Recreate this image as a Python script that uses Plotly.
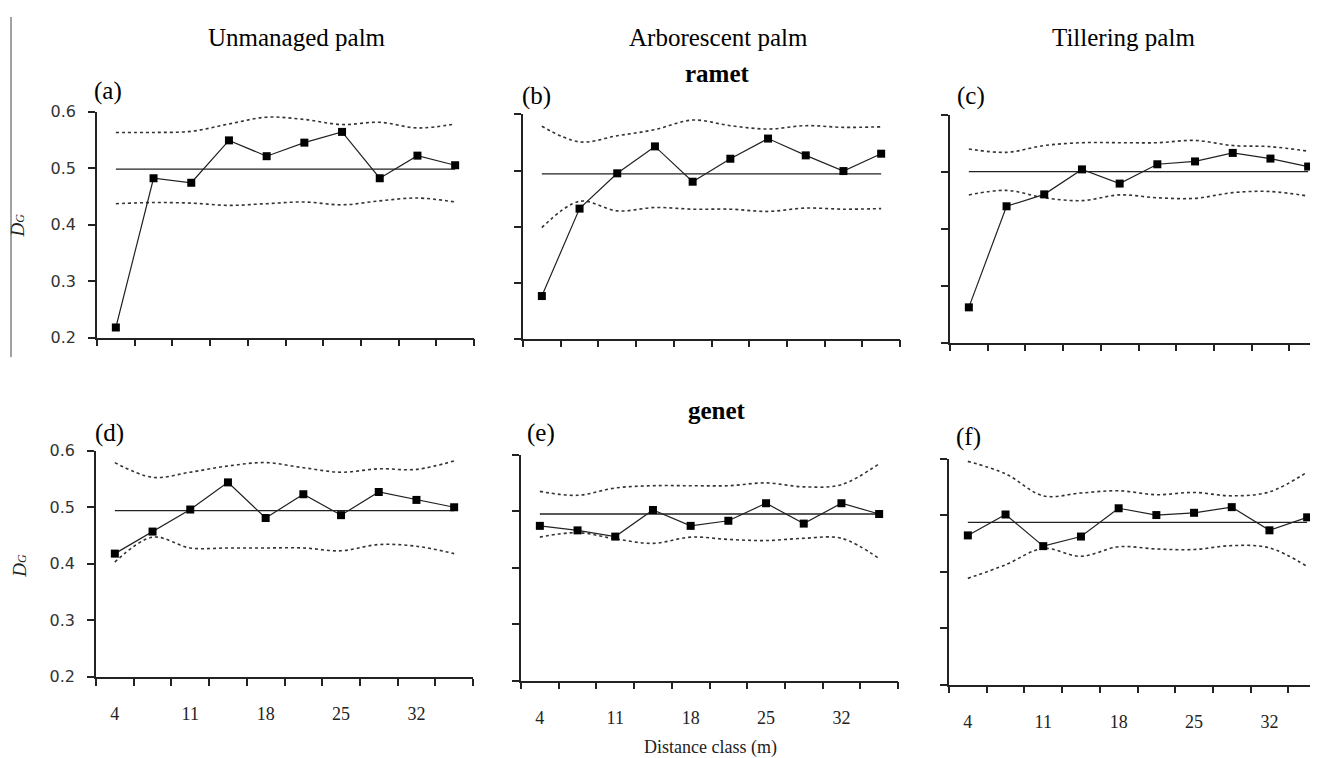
import plotly.graph_objects as go

# reference canvas 1318x758; the page body adds an 8px margin, so the figure is 8px smaller
OFF = 8
W, H = 1318 - OFF, 758 - OFF

distance = [4, 7.5, 11, 14.5, 18, 21.5, 25, 28.5, 32, 35.5]
tick_labels = ["4", "11", "18", "25", "32"]
tick_positions = [4, 11, 18, 25, 32]
y_ticks = [0.2, 0.3, 0.4, 0.5, 0.6]
y_tick_labels = ["0.2", "0.3", "0.4", "0.5", "0.6"]

# ramet
a_obs = [0.218, 0.482, 0.474, 0.549, 0.521, 0.545, 0.564, 0.482, 0.522, 0.505]
a_up = [0.563, 0.563, 0.565, 0.578, 0.590, 0.586, 0.577, 0.581, 0.571, 0.578]
a_lo = [0.437, 0.439, 0.438, 0.434, 0.437, 0.440, 0.435, 0.442, 0.447, 0.440]
a_mean = 0.498

b_obs = [0.276, 0.432, 0.495, 0.543, 0.480, 0.521, 0.557, 0.527, 0.499, 0.530]
b_up = [0.579, 0.551, 0.562, 0.573, 0.590, 0.580, 0.574, 0.580, 0.577, 0.578]
b_lo = [0.398, 0.445, 0.428, 0.434, 0.431, 0.431, 0.427, 0.433, 0.431, 0.432]
b_mean = 0.494

c_obs = [0.262, 0.440, 0.461, 0.505, 0.480, 0.514, 0.519, 0.534, 0.524, 0.510]
c_up = [0.541, 0.535, 0.547, 0.552, 0.552, 0.552, 0.556, 0.547, 0.545, 0.537]
c_lo = [0.460, 0.468, 0.455, 0.450, 0.460, 0.455, 0.454, 0.464, 0.466, 0.458]
c_mean = 0.501

# genet
d_obs = [0.418, 0.457, 0.496, 0.544, 0.481, 0.523, 0.486, 0.527, 0.513, 0.500]
d_up = [0.579, 0.553, 0.562, 0.573, 0.579, 0.570, 0.562, 0.568, 0.567, 0.582]
d_lo = [0.403, 0.447, 0.428, 0.428, 0.428, 0.428, 0.423, 0.434, 0.431, 0.418]
d_mean = 0.494

e_obs = [0.474, 0.466, 0.455, 0.502, 0.474, 0.483, 0.514, 0.478, 0.514, 0.495]
e_up = [0.535, 0.528, 0.541, 0.545, 0.545, 0.545, 0.550, 0.543, 0.547, 0.584]
e_lo = [0.454, 0.462, 0.451, 0.443, 0.454, 0.450, 0.448, 0.452, 0.452, 0.416]
e_mean = 0.495

f_obs = [0.464, 0.501, 0.445, 0.462, 0.512, 0.500, 0.504, 0.514, 0.473, 0.496]
f_up = [0.595, 0.573, 0.534, 0.539, 0.543, 0.536, 0.540, 0.534, 0.541, 0.576]
f_lo = [0.388, 0.412, 0.441, 0.427, 0.444, 0.440, 0.439, 0.446, 0.442, 0.409]
f_mean = 0.487

panels = [
    ("(a)", a_obs, a_up, a_lo, a_mean),
    ("(b)", b_obs, b_up, b_lo, b_mean),
    ("(c)", c_obs, c_up, c_lo, c_mean),
    ("(d)", d_obs, d_up, d_lo, d_mean),
    ("(e)", e_obs, e_up, e_lo, e_mean),
    ("(f)", f_obs, f_up, f_lo, f_mean),
]

# reference-pixel boxes (left, right, top, bottom)
boxes = [
    (97, 474, 105, 337),
    (523, 900, 108, 338),
    (950, 1318, 109, 342),
    (96, 473, 453, 685),
    (521, 898, 457, 689),
    (949, 1318, 461, 693),
]
# panel label positions (left x, center y) in reference pixels
label_pos = [(92, 84), (520, 89), (955, 89), (93, 435), (525, 435), (954, 439)]


def px(x):
    return (x - OFF) / W


def py(y):
    return 1 - (y - OFF) / H


bin_w = 3.5
x0 = distance[0] - bin_w / 2
boundaries = [x0 + bin_w * k for k in range(11)]

fig = go.Figure()
layout = {}
annotations = []
serif = "Liberation Serif"

for i, ((lab, obs, up, lo, mean), (l, r, t, b)) in enumerate(zip(panels, boxes)):
    n = "" if i == 0 else str(i + 1)
    xa, ya = "x" + n, "y" + n
    px_per_bin = 37.7
    x1 = x0 + (r - l) / px_per_bin * bin_w
    dot = dict(color="#333333", width=1.6, dash="dot", shape="spline")
    fig.add_trace(go.Scatter(x=distance, y=up, mode="lines", line=dot, xaxis=xa, yaxis=ya, showlegend=False))
    fig.add_trace(go.Scatter(x=distance, y=lo, mode="lines", line=dot, xaxis=xa, yaxis=ya, showlegend=False))
    fig.add_trace(go.Scatter(x=[distance[0], distance[-1]], y=[mean, mean], mode="lines",
                             line=dict(color="#222222", width=1.3), xaxis=xa, yaxis=ya, showlegend=False))
    fig.add_trace(go.Scatter(x=distance, y=obs, mode="lines+markers",
                             line=dict(color="#222222", width=1.2),
                             marker=dict(symbol="square", size=8, color="black"),
                             xaxis=xa, yaxis=ya, showlegend=False, cliponaxis=False))
    bottom = i >= 3
    layout["xaxis" + n] = dict(
        domain=[px(l), min(px(r), 1.0)], range=[x0, x1], anchor=ya,
        showline=True, linecolor="#222222", linewidth=1.5, showgrid=False, zeroline=False,
        tickmode="array", tickvals=tick_positions, ticktext=tick_labels,
        ticks="outside", ticklen=20, tickcolor="rgba(0,0,0,0)",
        showticklabels=bottom,
        tickfont=dict(family=serif, size=18, color="#222222"),
        minor=dict(tickmode="array", tickvals=boundaries, ticks="outside", ticklen=7,
                   tickcolor="#222222", tickwidth=1.5, showgrid=False),
    )
    left = i in (0, 3)
    layout["yaxis" + n] = dict(
        domain=[py(b), py(t)], range=[0.2, 0.6], anchor=xa,
        showline=True, linecolor="#222222", linewidth=1.5, showgrid=False, zeroline=False,
        tickmode="array", tickvals=y_ticks, ticktext=y_tick_labels,
        ticks="outside", ticklen=7, tickcolor="#222222", tickwidth=1.5,
        ticklabelstandoff=9,
        showticklabels=left,
        tickfont=dict(family="DejaVu Sans", size=16, color="#333333"),
    )
    lx, ly = label_pos[i]
    annotations.append(dict(text=lab, x=px(lx), y=py(ly), xref="paper", yref="paper",
                            xanchor="left", yanchor="middle", showarrow=False,
                            font=dict(family=serif, size=25, color="black")))

for txt, cx in [("Unmanaged palm", 297), ("Arborescent palm", 718), ("Tillering palm", 1123)]:
    annotations.append(dict(text=txt, x=px(cx), y=py(29), xref="paper", yref="paper",
                            xanchor="center", yanchor="middle", showarrow=False,
                            font=dict(family=serif, size=25, color="black")))
for txt, cy in [("<b>ramet</b>", 66), ("<b>genet</b>", 412)]:
    annotations.append(dict(text=txt, x=px(717), y=py(cy), xref="paper", yref="paper",
                            xanchor="center", yanchor="middle", showarrow=False,
                            font=dict(family=serif, size=25, color="black")))
annotations.append(dict(text="Distance class (m)", x=px(710), y=py(757), xref="paper", yref="paper",
                        xanchor="center", yanchor="middle", showarrow=False,
                        font=dict(family=serif, size=18, color="#222222")))
for cx, cy in ((18, 222), (20, 571)):
    annotations.append(dict(text="<i>D<span style='font-size:12px'>G</span></i>", x=px(cx), y=py(cy),
                            xref="paper", yref="paper", xanchor="center", yanchor="middle",
                            showarrow=False, textangle=-90,
                            font=dict(family=serif, size=19, color="#222222")))

shapes = [dict(type="line", xref="paper", yref="paper", x0=px(11), x1=px(11), y0=1.0, y1=py(357),
               line=dict(color="#444444", width=1))]

fig.update_layout(width=W, height=H, margin=dict(l=0, r=0, t=0, b=0),
                  paper_bgcolor="white", plot_bgcolor="white",
                  annotations=annotations, shapes=shapes, **layout)

fig.write_html("out.html")
